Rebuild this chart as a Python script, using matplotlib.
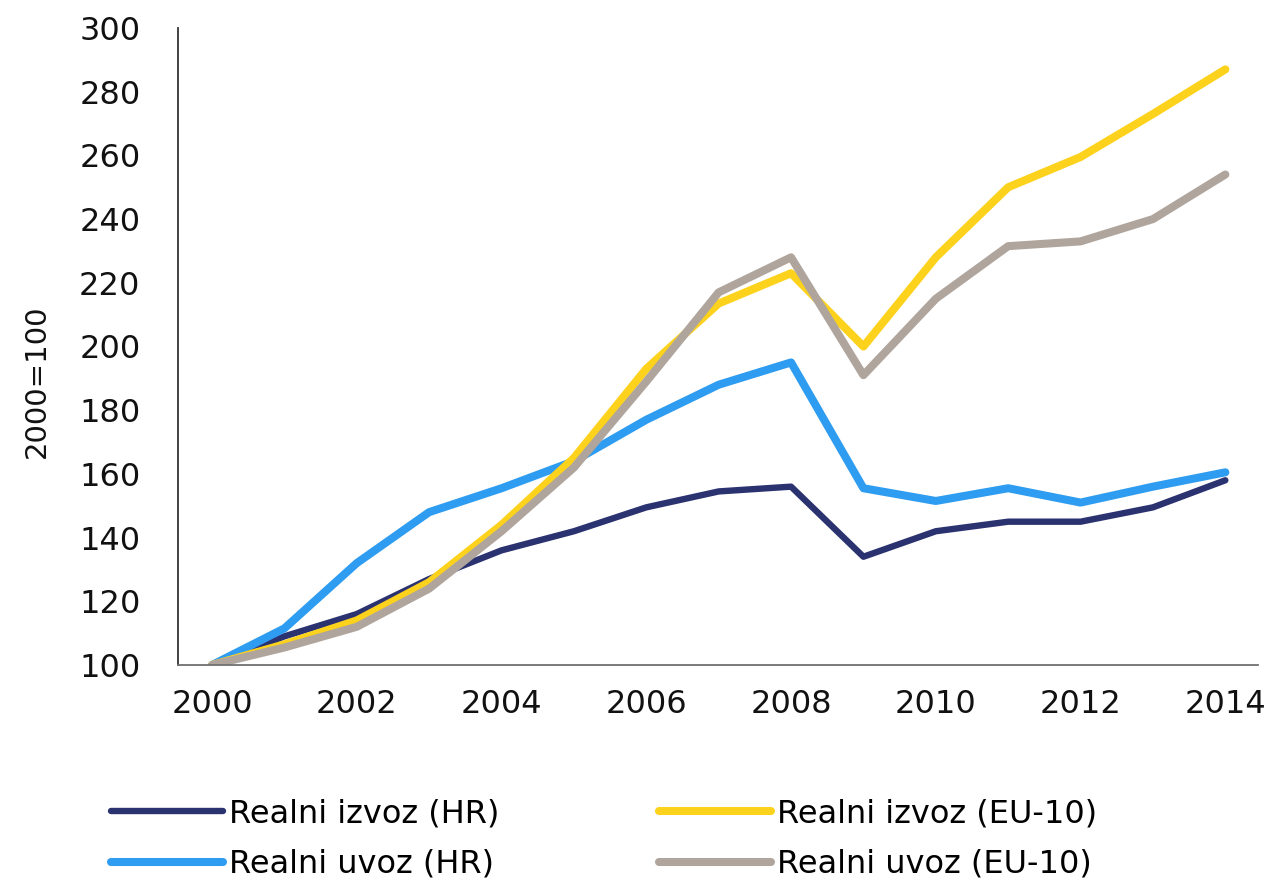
import matplotlib
matplotlib.use("Agg")
from matplotlib import pyplot as plt

plt.rcParams['font.family'] = ['DejaVu Sans']

years = list(range(2000, 2015))

# indices, 2000=100
izvoz_hr = [100, 109, 116, 127, 136, 142, 149.5, 154.5, 156, 134, 142, 145, 145, 149.5, 158]
uvoz_hr = [100, 111.5, 132, 148, 155.5, 164, 177, 188, 195, 155.5, 151.5, 155.5, 151, 156, 160.5]
izvoz_eu = [100, 106.5, 114, 126, 144, 165, 193, 213.5, 223, 200, 228, 250, 259.5, 273, 287]
uvoz_eu = [100, 105.5, 112, 124, 142, 162, 189, 217, 228, 191, 215, 231.5, 233, 240, 254]

labels = ['Realni izvoz (HR)', 'Realni uvoz (HR)', 'Realni izvoz (EU-10)', 'Realni uvoz (EU-10)']
colors = ['#2b3270', '#2e9cf0', '#fcd21c', '#b0a59d']
widths = [4.6, 5.8, 5.8, 5.8]
fs = 23

fig = plt.figure(figsize=(12.75, 8.88), dpi=100)
ax = fig.add_axes([0.1396, 0.2511, 0.847, 0.7174])

series = [izvoz_hr, uvoz_hr, izvoz_eu, uvoz_eu]
handles = []
for i in range(4):
    h, = ax.plot(years, series[i], color=colors[i], lw=widths[i], label=labels[i],
                 solid_capstyle='round', solid_joinstyle='round')
    handles.append(h)

ax.set_xlim(1999.53, 2014.45)
ax.set_ylim(100, 300)
ax.set_xticks(range(2000, 2015, 2))
ax.set_yticks(range(100, 301, 20))
ax.tick_params(axis='both', length=0, labelsize=fs, colors='#111111')
ax.tick_params(axis='y', pad=27)
ax.tick_params(axis='x', pad=17)
for s in ['top', 'right']:
    ax.spines[s].set_visible(False)
ax.spines['left'].set_color('#333333')
ax.spines['bottom'].set_color('#707070')
ax.spines['left'].set_linewidth(1.3)
ax.spines['bottom'].set_linewidth(1.3)

ax.set_ylabel('2000=100', fontsize=21, color='#111111')
ax.yaxis.set_label_coords(-0.118, 0.445)

# two legend columns placed separately
kw = dict(loc='upper left', frameon=False, fontsize=fs, handlelength=3.5,
          handletextpad=0.2, labelspacing=0.62, borderpad=0, borderaxespad=0)
fig.legend([handles[0], handles[1]], [labels[0], labels[1]],
           bbox_to_anchor=(111 / 1275, 1 - 798 / 888), **kw)
fig.legend([handles[2], handles[3]], [labels[2], labels[3]],
           bbox_to_anchor=(659 / 1275, 1 - 798 / 888), **kw)

fig.savefig('out.png', dpi=100)
